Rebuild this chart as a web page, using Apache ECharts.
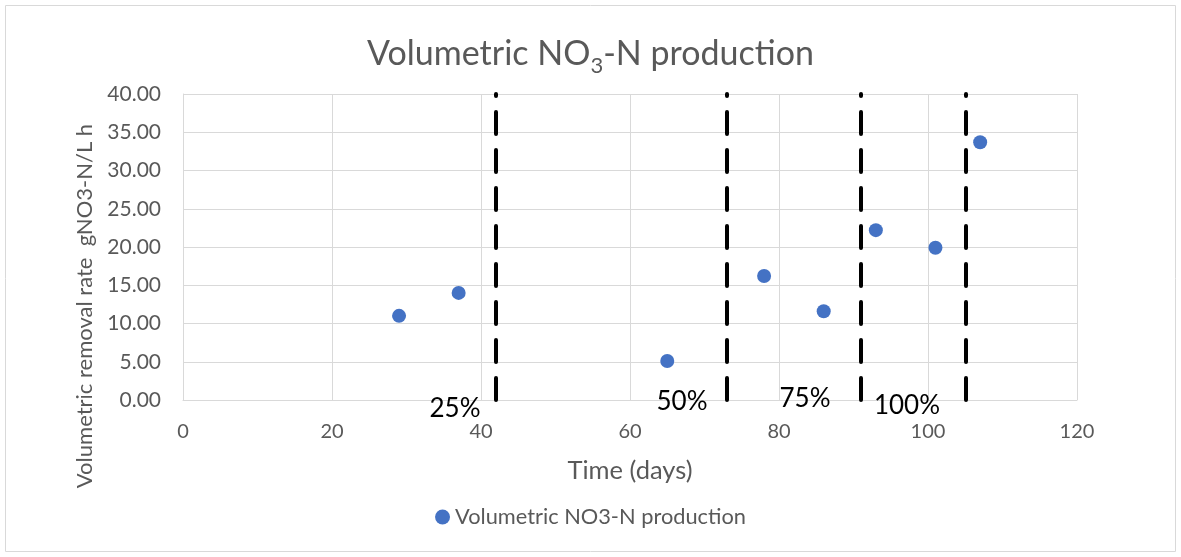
<!DOCTYPE html>
<html><head><meta charset="utf-8">
<script src="https://cdn.jsdelivr.net/npm/echarts@6/dist/echarts.min.js"></script>
<style>html,body{margin:0;padding:0;background:#fff}#c{width:1181px;height:557px}</style>
</head><body><div id="c"></div>
<script>
var days = [29, 37, 65, 78, 86, 93, 101, 107];
var rates = [11.0, 14.0, 5.1, 16.2, 11.6, 22.2, 19.9, 33.7];
var phaseDays = [42, 73, 91, 105];
var phaseLabels = ['25%', '50%', '75%', '100%'];
var seriesName = 'Volumetric NO3-N production';

var chart = echarts.init(document.getElementById('c'));
var font = 'Lato, "Open Sans", sans-serif';
var labelPos = [[455, 409], [682, 402], [805, 399], [907, 406]];
chart.setOption({
  animation: false,
  title: {
    text: '{a|Volumetric NO}{s|3}{a|-N production}',
    left: 'center', top: 26,
    textStyle: { fontWeight: 'normal', rich: {
      a: { fontSize: 34, color: '#595959', fontFamily: font, fontWeight: 'normal' },
      s: { fontSize: 22, color: '#595959', fontFamily: font, fontWeight: 'normal', verticalAlign: 'bottom', padding: [24, 0, 0, 0] }
    } }
  },
  legend: {
    bottom: 24, left: 'center', itemWidth: 15, itemHeight: 15, itemGap: 6,
    textStyle: { fontSize: 21.8, color: '#595959', fontFamily: font },
    data: [{ name: seriesName, icon: 'circle' }]
  },
  grid: { left: 183, right: 104, top: 94, bottom: 157 },
  xAxis: {
    type: 'value', min: 0, max: 120, interval: 20,
    name: 'Time (days)', nameLocation: 'middle', nameGap: 58,
    nameTextStyle: { fontSize: 25.5, color: '#595959', fontFamily: font },
    axisLine: { show: true, lineStyle: { color: '#d9d9d9' } },
    axisTick: { show: false },
    axisLabel: { fontSize: 20, color: '#595959', fontFamily: font, margin: 22 },
    splitLine: { show: true, lineStyle: { color: '#d9d9d9' } }
  },
  yAxis: {
    type: 'value', min: 0, max: 40, interval: 5,
    axisLine: { show: true, lineStyle: { color: '#d9d9d9' } },
    axisTick: { show: false },
    axisLabel: { fontSize: 21, color: '#595959', fontFamily: font, margin: 22,
      formatter: function (v) { return v.toFixed(2); } },
    splitLine: { show: true, lineStyle: { color: '#d9d9d9' } }
  },
  graphic: [
    { type: 'rect', shape: { x: 5.5, y: 5.5, width: 1170, height: 546 },
      style: { fill: 'none', stroke: '#d9d9d9', lineWidth: 1 }, silent: true, z: -10 },
    { type: 'text', x: 85, y: 306, rotation: Math.PI / 2,
      style: { text: 'Volumetric removal rate  gNO3-N/L h', fontSize: 22, fill: '#595959',
        fontFamily: font, align: 'center', verticalAlign: 'middle' } }
  ].concat(phaseLabels.map(function (t, i) {
    return { type: 'text', x: labelPos[i][0], y: labelPos[i][1],
      style: { text: t, fontSize: 26, fill: '#000', fontFamily: font, align: 'center', verticalAlign: 'middle' }, z: 100 };
  })),
  series: [{
    name: seriesName, type: 'scatter', symbolSize: 14,
    itemStyle: { color: '#4472C4', opacity: 1 },
    data: days.map(function (d, i) { return [d, rates[i]]; }),
    markLine: {
      silent: true, symbol: 'none', label: { show: false },
      lineStyle: { color: '#000', width: 4, type: [22, 16], cap: 'round' },
      data: phaseDays.map(function (d) { return [{ coord: [d, 0] }, { coord: [d, 40] }]; })
    }
  }]
});
</script></body></html>
